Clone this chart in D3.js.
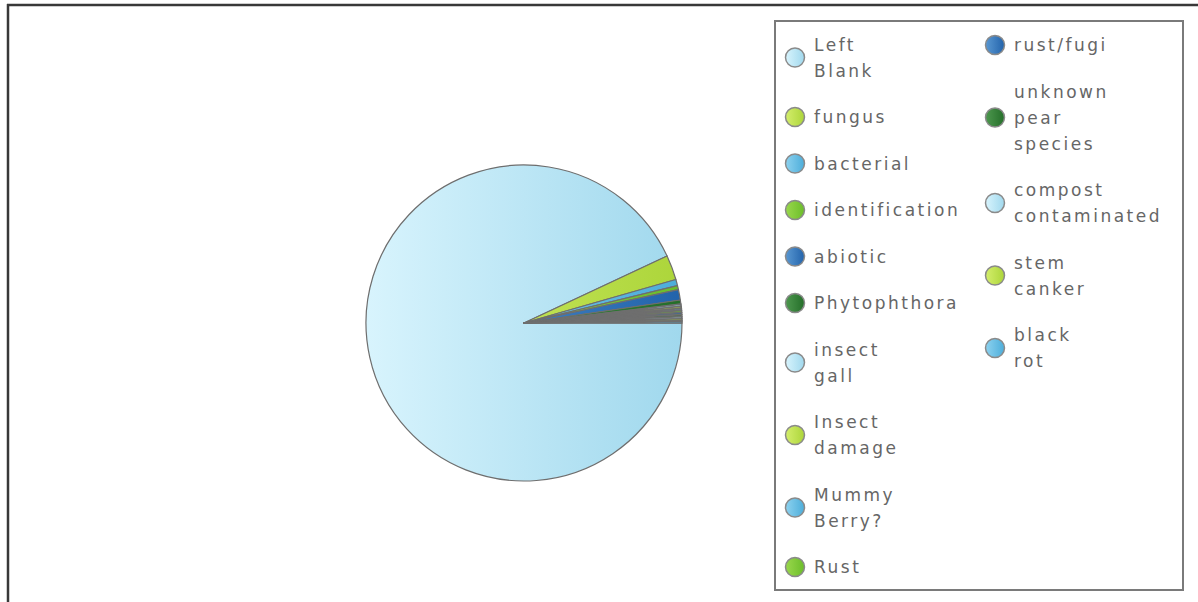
<!DOCTYPE html>
<html>
<head>
<meta charset="utf-8">
<script src="https://cdn.jsdelivr.net/npm/d3@7"></script>
<style>
  html, body { margin: 0; padding: 0; background: #fff; }
  svg { display: block; }
</style>
</head>
<body>
<script>
// ---- data ----
const categories = ["Left Blank", "fungus", "bacterial", "identification", "abiotic", "Phytophthora",
  "insect gall", "Insect damage", "Mummy Berry?", "Rust", "rust/fugi", "unknown pear species",
  "compost contaminated", "stem canker", "black rot"];
const values = [440, 12, 3, 2, 5, 2, 1, 1, 1, 1, 1, 1, 1, 1, 1];
const paletteLight = ["#d8f4fd", "#d4ee6c", "#8dd2ef", "#9ad84c", "#5a98d2", "#4e984f"];
const paletteDark  = ["#a0d8ed", "#acd53a", "#4cadda", "#6bbd2a", "#2263ab", "#246e29"];

const W = 1198, H = 602;
const svg = d3.select("body").append("svg").attr("width", W).attr("height", H);
const defs = svg.append("defs");

// outer frame (cropped container border)
svg.append("line").attr("x1", 7).attr("x2", W).attr("y1", 5).attr("y2", 5)
  .attr("stroke", "#383838").attr("stroke-width", 2.5);
svg.append("line").attr("x1", 8).attr("x2", 8).attr("y1", 4).attr("y2", H)
  .attr("stroke", "#383838").attr("stroke-width", 2.5);

// pie
const cx = 524, cy = 323, R = 158;
const colorIdx = i => i % paletteLight.length;

paletteLight.forEach((c, i) => {
  const g = defs.append("linearGradient").attr("id", "pg" + i)
    .attr("gradientUnits", "userSpaceOnUse")
    .attr("x1", -R).attr("x2", R).attr("y1", 0).attr("y2", 0);
  g.append("stop").attr("offset", "0%").attr("stop-color", paletteLight[i]);
  g.append("stop").attr("offset", "100%").attr("stop-color", paletteDark[i]);
  const m = defs.append("linearGradient").attr("id", "mg" + i)
    .attr("x1", "0%").attr("x2", "100%").attr("y1", "0%").attr("y2", "0%");
  m.append("stop").attr("offset", "0%").attr("stop-color", paletteLight[i]);
  m.append("stop").attr("offset", "100%").attr("stop-color", paletteDark[i]);
});

const pie = d3.pie().sort(null).value(d => d)
  .startAngle(Math.PI / 2).endAngle(Math.PI / 2 + 2 * Math.PI);
const arc = d3.arc().innerRadius(0).outerRadius(R);

const pg = svg.append("g").attr("transform", `translate(${cx},${cy})`);
pg.selectAll("path").data(pie(values)).join("path")
  .attr("d", arc)
  .attr("fill", (d, i) => `url(#pg${colorIdx(i)})`)
  .attr("stroke", "#6e6e6e")
  .attr("stroke-width", (d, i) => values[i] <= 1 ? 1.6 : 1.2)
  .attr("stroke-linejoin", "round");

// legend box
svg.append("rect").attr("x", 775).attr("y", 21).attr("width", 408).attr("height", 569)
  .attr("fill", "#fff").attr("stroke", "#7a7a7a").attr("stroke-width", 2);

const colX = [795, 995];
const lineH = 26, gap = 20.5, topY = [31.5, 32], maxY = 588;
let col = 0, y = topY[0];
const lg = svg.append("g");
categories.forEach((name, i) => {
  const lines = name.split(" ");
  const h = lines.length * lineH;
  if (y + h > maxY) { col++; y = topY[col]; }
  const c = y + h / 2;
  lg.append("circle").attr("cx", colX[col]).attr("cy", c).attr("r", 9.5)
    .attr("fill", `url(#mg${colorIdx(i)})`).attr("stroke", "#8a8a8a").attr("stroke-width", 1.5);
  const t = lg.append("text").attr("x", colX[col] + 19)
    .attr("font-family", "DejaVu Sans, Verdana, sans-serif").attr("font-size", 17)
    .attr("letter-spacing", 2.5).attr("fill", "#666");
  lines.forEach((ln, k) => {
    t.append("tspan").attr("x", colX[col] + 19).attr("y", y + k * lineH + 13 + 6).text(ln);
  });
  y += h + gap;
});
</script>
</body>
</html>
